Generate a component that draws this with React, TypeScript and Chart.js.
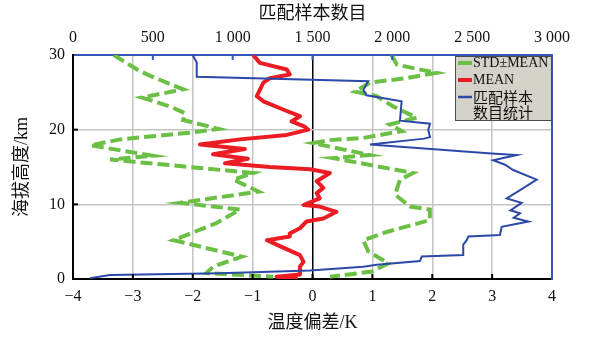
import React, { useEffect, useRef } from 'react';
import { Chart, registerables } from 'chart.js';

Chart.register(...registerables);

// ---- Data ----
// MEAN temperature bias (K) vs altitude (km)
const MEAN_BIAS = [-0.99, -0.88, -0.43, -0.38, -0.71, -0.82, -0.93, -0.82, -0.43, -0.21, -0.35, -0.13, -0.07, -0.43, -1.21, -1.88, -1.13, -1.66, -1.08, -1.46, -0.71, -0.04, 0.29, 0.07, 0.18, 0.07, 0.12, -0.15, 0.12, 0.4, 0.18, -0.1, -0.21, -0.38, -0.38, -0.76, -0.6, -0.21, -0.15, -0.21, -0.21, -0.6, -0.25];
const MEAN_HEIGHT = [30.0, 28.95, 28.05, 27.4, 26.9, 26.3, 24.5, 23.8, 22.5, 21.8, 21.1, 20.4, 20.0, 19.3, 18.7, 18.0, 17.4, 16.7, 16.1, 15.5, 15.0, 14.7, 14.2, 13.1, 12.2, 11.5, 10.8, 9.9, 9.7, 9.0, 8.1, 7.7, 6.8, 6.1, 5.7, 5.2, 4.6, 3.2, 2.3, 1.65, 0.6, 0.3, 0.15];

// MEAN - STD
const STD_LOW_BIAS = [-3.32, -2.93, -2.71, -2.16, -2.85, -2.38, -2.13, -2.16, -1.57, -2.05, -3.21, -3.71, -2.66, -3.38, -0.99, -1.32, -0.9, -2.21, -1.21, -1.6, -2.32, -1.18, -1.66, -1.77, -0.66];
const STD_LOW_HEIGHT = [30.0, 28.05, 27.2, 25.4, 24.3, 23.1, 22.2, 21.3, 20.1, 19.6, 18.7, 17.9, 16.5, 16.0, 14.2, 13.3, 11.7, 10.2, 9.3, 7.5, 5.2, 3.0, 1.65, 0.8, 0.3];

// MEAN + STD
const STD_HIGH_BIAS = [1.32, 1.41, 2.07, 1.57, 0.96, 0.71, 1.07, 1.35, 1.74, 1.29, 1.49, 0.85, 0.29, 0.01, 0.96, 0.34, 1.68, 1.46, 1.38, 1.63, 1.96, 1.96, 1.24, 0.85, 0.93, 1.27, 0.99, 0.29];
const STD_HIGH_HEIGHT = [30.0, 28.7, 27.6, 26.9, 26.3, 25.1, 24.5, 23.1, 21.6, 20.7, 19.8, 18.9, 18.6, 18.2, 16.6, 16.2, 14.2, 13.3, 11.3, 9.7, 9.3, 7.9, 6.3, 5.2, 3.7, 2.1, 1.0, 0.3];

// Matched sample count vs altitude (km)
const COUNT_VALUES = [106, 232, 921, 1484, 1818, 1902, 2173, 2184, 2444, 2444, 2466, 2476, 2674, 2685, 2852, 2760, 2800, 2740, 2810, 2716, 2800, 2904, 2757, 2706, 2632, 2779, 2622, 1860, 2200, 2236, 2225, 2236, 2048, 2058, 1839, 1818, 1849, 775, 775, 752, 752];
const COUNT_HEIGHT = [0.1, 0.54, 0.77, 1.15, 1.65, 1.9, 2.4, 3.0, 3.2, 4.6, 5.2, 5.7, 5.9, 7.0, 7.7, 8.2, 8.8, 9.2, 10.2, 10.8, 11.9, 13.3, 14.6, 15.3, 15.9, 16.6, 16.8, 18.0, 18.8, 19.0, 20.0, 20.8, 21.2, 23.8, 24.6, 25.3, 26.5, 27.1, 29.0, 29.9, 30.0];

const BIAS_TICKS = [-4, -3, -2, -1, 0, 1, 2, 3, 4];
const COUNT_TICKS = [0, 500, 1000, 1500, 2000, 2500, 3000];
const HEIGHT_TICKS = [0, 10, 20, 30];

const LEGEND_LABELS = ['STD±MEAN', 'MEAN', '匹配样本\n数目统计'];
const TITLE_BIAS = '温度偏差/K';
const TITLE_COUNT = '匹配样本数目';
const TITLE_HEIGHT = '海拔高度/km';

// ---- Styles ----
const GREEN = '#6cbf45';
const RED = '#ec1c24';
const BLUE = '#2c49a8';
const FRAME_BLUE = '#3557b8';
const GRID = '#c4c4c4';
const SERIF = "'Liberation Serif', 'Noto Sans CJK SC', serif";

const pairs = (xs: number[], ys: number[]) => xs.map((x, i) => ({ x, y: ys[i] }));

const fmtBias = (v: number) => (v < 0 ? '\u2212' + Math.abs(v) : String(v));
const fmtCount = (v: number) =>
  v >= 1000 ? `${Math.floor(v / 1000)} ${String(v % 1000).padStart(3, '0')}` : String(v);

const framePlugin = {
  id: 'frameDecor',
  afterDatasetsDraw(chart: any) {
    const { ctx, chartArea, scales } = chart;
    const { left, right, top, bottom } = chartArea;
    ctx.save();
    // inward tick marks
    ctx.lineWidth = 2;
    ctx.strokeStyle = '#000';
    HEIGHT_TICKS.filter((v) => v > 0 && v < 30).forEach((v) => {
      const y = scales.y.getPixelForValue(v);
      ctx.beginPath();
      ctx.moveTo(left, y);
      ctx.lineTo(left + 5, y);
      ctx.stroke();
    });
    BIAS_TICKS.filter((v) => v > -4 && v < 4).forEach((v) => {
      const x = scales.x.getPixelForValue(v);
      ctx.beginPath();
      ctx.moveTo(x, bottom);
      ctx.lineTo(x, bottom - 5);
      ctx.stroke();
    });
    ctx.strokeStyle = FRAME_BLUE;
    COUNT_TICKS.filter((v) => v > 0 && v < 3000).forEach((v) => {
      const x = scales.x2.getPixelForValue(v);
      ctx.beginPath();
      ctx.moveTo(x, top);
      ctx.lineTo(x, top + 5);
      ctx.stroke();
    });

    // legend box
    const w = 97;
    const h = 64;
    const x0 = right - w;
    const y0 = top + 1;
    ctx.fillStyle = '#d5d2ca';
    ctx.fillRect(x0, y0, w, h);
    ctx.strokeStyle = '#4a4a4a';
    ctx.lineWidth = 1;
    ctx.strokeRect(x0 + 0.5, y0 + 0.5, w - 1, h);
    const colors = [GREEN, RED, BLUE];
    const widths = [4, 4, 2.5];
    const rowY = [y0 + 7, y0 + 24, y0 + 41];
    ctx.textBaseline = 'middle';
    ctx.textAlign = 'left';
    ctx.fillStyle = '#111';
    LEGEND_LABELS.forEach((lab, i) => {
      ctx.strokeStyle = colors[i];
      ctx.lineWidth = widths[i];
      ctx.beginPath();
      ctx.moveTo(x0 + 3, rowY[i]);
      ctx.lineTo(x0 + 17, rowY[i]);
      ctx.stroke();
      const lines = lab.split('\n');
      lines.forEach((ln, j) => {
        const isCjk = /[\u4e00-\u9fff]/.test(ln);
        ctx.font = isCjk ? "15px 'Noto Sans CJK SC', serif" : "14px 'Liberation Serif', serif";
        ctx.fillText(ln, x0 + 18, rowY[i] + j * 15);
      });
    });
    ctx.restore();
  },
};

export default function App() {
  const ref = useRef<HTMLCanvasElement | null>(null);

  useEffect(() => {
    if (!ref.current) return;
    const tickFont = { family: SERIF, size: 16 };
    const titleFont = { family: SERIF, size: 18 };
    const chart = new Chart(ref.current, {
      type: 'scatter',
      data: {
        datasets: [
          {
            label: LEGEND_LABELS[2],
            data: pairs(COUNT_VALUES, COUNT_HEIGHT),
            xAxisID: 'x2',
            yAxisID: 'y',
            showLine: true,
            borderColor: BLUE,
            borderWidth: 2,
            pointRadius: 0,
          },
          {
            label: LEGEND_LABELS[1],
            data: pairs(MEAN_BIAS, MEAN_HEIGHT),
            xAxisID: 'x',
            yAxisID: 'y',
            showLine: true,
            borderColor: RED,
            borderWidth: 4,
            borderJoinStyle: 'round',
            pointRadius: 0,
          },
          {
            label: LEGEND_LABELS[0],
            data: pairs(STD_LOW_BIAS, STD_LOW_HEIGHT),
            xAxisID: 'x',
            yAxisID: 'y',
            showLine: true,
            borderColor: GREEN,
            borderWidth: 4,
            borderDash: [12, 5],
            pointRadius: 0,
          },
          {
            label: LEGEND_LABELS[0],
            data: pairs(STD_HIGH_BIAS, STD_HIGH_HEIGHT),
            xAxisID: 'x',
            yAxisID: 'y',
            showLine: true,
            borderColor: GREEN,
            borderWidth: 4,
            borderDash: [12, 5],
            pointRadius: 0,
          },
        ],
      },
      options: {
        responsive: false,
        animation: false,
        layout: { padding: { left: 0, right: 37, top: 0, bottom: 0 } },
        plugins: { legend: { display: false }, tooltip: { enabled: false } },
        scales: {
          x: {
            type: 'linear',
            position: 'bottom',
            min: -4,
            max: 4,
            afterBuildTicks: (s: any) => {
              s.ticks = BIAS_TICKS.map((v) => ({ value: v }));
            },
            afterFit: (s: any) => {
              s.height = 63;
            },
            ticks: { font: tickFont, color: '#111', padding: 8, callback: (v: any) => fmtBias(Number(v)) },
            grid: {
              drawTicks: false,
              lineWidth: 1.5,
              color: (c: any) => {
                const v = c.tick?.value;
                if (v === 0) return '#000';
                if (v === -4 || v === 4) return 'rgba(0,0,0,0)';
                return GRID;
              },
            },
            border: { color: '#000', width: 2 },
            title: { display: true, text: TITLE_BIAS, font: titleFont, color: '#111', padding: { top: 0, bottom: 8 } },
          },
          x2: {
            type: 'linear',
            position: 'top',
            min: 0,
            max: 3000,
            afterBuildTicks: (s: any) => {
              s.ticks = COUNT_TICKS.map((v) => ({ value: v }));
            },
            afterFit: (s: any) => {
              s.height = 55;
            },
            ticks: { font: tickFont, color: '#111', padding: 8, callback: (v: any) => fmtCount(Number(v)) },
            grid: { display: false, drawTicks: false },
            border: { color: FRAME_BLUE, width: 2 },
            title: { display: true, text: TITLE_COUNT, font: titleFont, color: '#111', padding: { top: 3, bottom: 0 } },
          },
          y: {
            type: 'linear',
            position: 'left',
            min: 0,
            max: 30,
            afterBuildTicks: (s: any) => {
              s.ticks = HEIGHT_TICKS.map((v) => ({ value: v }));
            },
            afterFit: (s: any) => {
              s.width = 73;
            },
            ticks: { font: tickFont, color: '#111', padding: 8 },
            grid: {
              drawTicks: false,
              lineWidth: 1.5,
              color: (c: any) => {
                const v = c.tick?.value;
                if (v === 0 || v === 30) return 'rgba(0,0,0,0)';
                return GRID;
              },
            },
            border: { color: '#000', width: 2 },
            title: { display: true, text: TITLE_HEIGHT, font: titleFont, color: '#111', padding: { top: 11, bottom: 0 } },
          },
          y2: {
            type: 'linear',
            position: 'right',
            display: true,
            min: 0,
            max: 30,
            afterFit: (s: any) => {
              s.width = 0;
            },
            ticks: { display: false },
            grid: { display: false, drawTicks: false },
            border: { color: FRAME_BLUE, width: 2 },
          },
        },
      } as any,
      plugins: [framePlugin],
    });
    return () => chart.destroy();
  }, []);

  return (
    <div style={{ position: 'absolute', left: 0, top: 0, width: 589, height: 342, background: '#fff' }}>
      <canvas ref={ref} width={589} height={342} />
    </div>
  );
}
